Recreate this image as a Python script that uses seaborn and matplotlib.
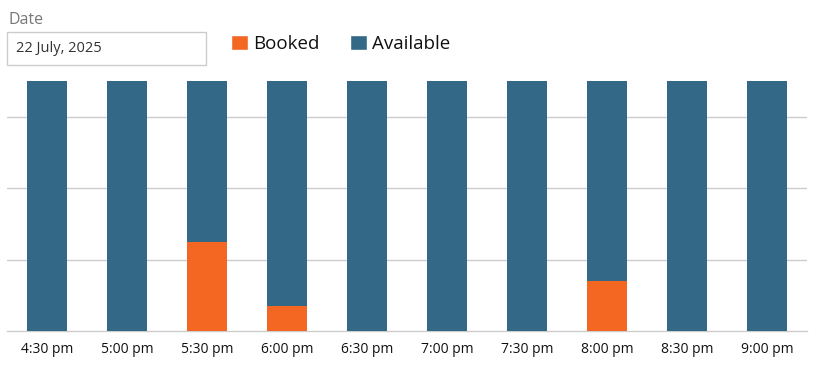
import matplotlib
matplotlib.use('Agg')
import matplotlib.pyplot as plt
from matplotlib.patches import Rectangle, Patch
import seaborn as sns
import pandas as pd

# chart data
slots = ['4:30 pm', '5:00 pm', '5:30 pm', '6:00 pm', '6:30 pm',
         '7:00 pm', '7:30 pm', '8:00 pm', '8:30 pm', '9:00 pm']
booked = [0, 0, 12.4, 3.5, 0, 0, 0, 7.0, 0, 0]
available = [35 - b for b in booked]

ORANGE = '#F46723'
BLUE = '#336886'

sns.set_theme(style='white')
plt.rcParams['font.family'] = ['Open Sans', 'DejaVu Sans']

df = pd.DataFrame({'slot': slots, 'booked': booked, 'available': available})
df['total'] = df['booked'] + df['available']

fig = plt.figure(figsize=(8.3, 3.84), dpi=100)
ax = fig.add_axes([7 / 830, 53 / 384, 800 / 830, 250 / 384])

# stacked bars: total in blue, booked part drawn over it from the bottom
sns.barplot(data=df, x='slot', y='total', color=BLUE, width=0.5,
            saturation=1, linewidth=0, ax=ax, zorder=3)
sns.barplot(data=df, x='slot', y='booked', color=ORANGE, width=0.5,
            saturation=1, linewidth=0, ax=ax, zorder=4)

ax.set_ylim(0, 35)
ax.set_xlim(-0.5, len(slots) - 0.5)
ax.set_yticks([10, 20, 30])
ax.set_yticklabels([])
ax.yaxis.grid(True, color='#cccccc', linewidth=1)
ax.set_axisbelow(True)
ax.tick_params(axis='y', length=0)
ax.tick_params(axis='x', length=0, pad=8, labelsize=10, labelcolor='#111111')
for side in ['top', 'left', 'right']:
    ax.spines[side].set_visible(False)
ax.spines['bottom'].set_color('#cccccc')
ax.spines['bottom'].set_linewidth(1)
ax.set_xlabel('')
ax.set_ylabel('')

# date field
fig.text(8 / 830, 1 - 20 / 384, 'Date', fontsize=11.5, color='#777777',
         va='center', ha='left')
fig.patches.append(Rectangle((7 / 830, 1 - 65 / 384), 199 / 830, 33 / 384,
                             transform=fig.transFigure, facecolor='white',
                             edgecolor='#cccccc', linewidth=1))
fig.text(16 / 830, 1 - 48 / 384, '22 July, 2025', fontsize=10.5,
         color='#333333', va='center', ha='left')

# legend
handles = [Patch(facecolor=ORANGE, label='Booked'),
           Patch(facecolor=BLUE, label='Available')]
leg = fig.legend(handles=handles, loc='center left',
                 bbox_to_anchor=(231 / 830, 1 - 44 / 384), ncol=2,
                 frameon=False, fontsize=13.5, handlelength=0.9,
                 handleheight=0.9, handletextpad=0.3, columnspacing=1.6,
                 borderpad=0, borderaxespad=0)
for t in leg.get_texts():
    t.set_color('#111111')

fig.savefig('out.png', dpi=100)
